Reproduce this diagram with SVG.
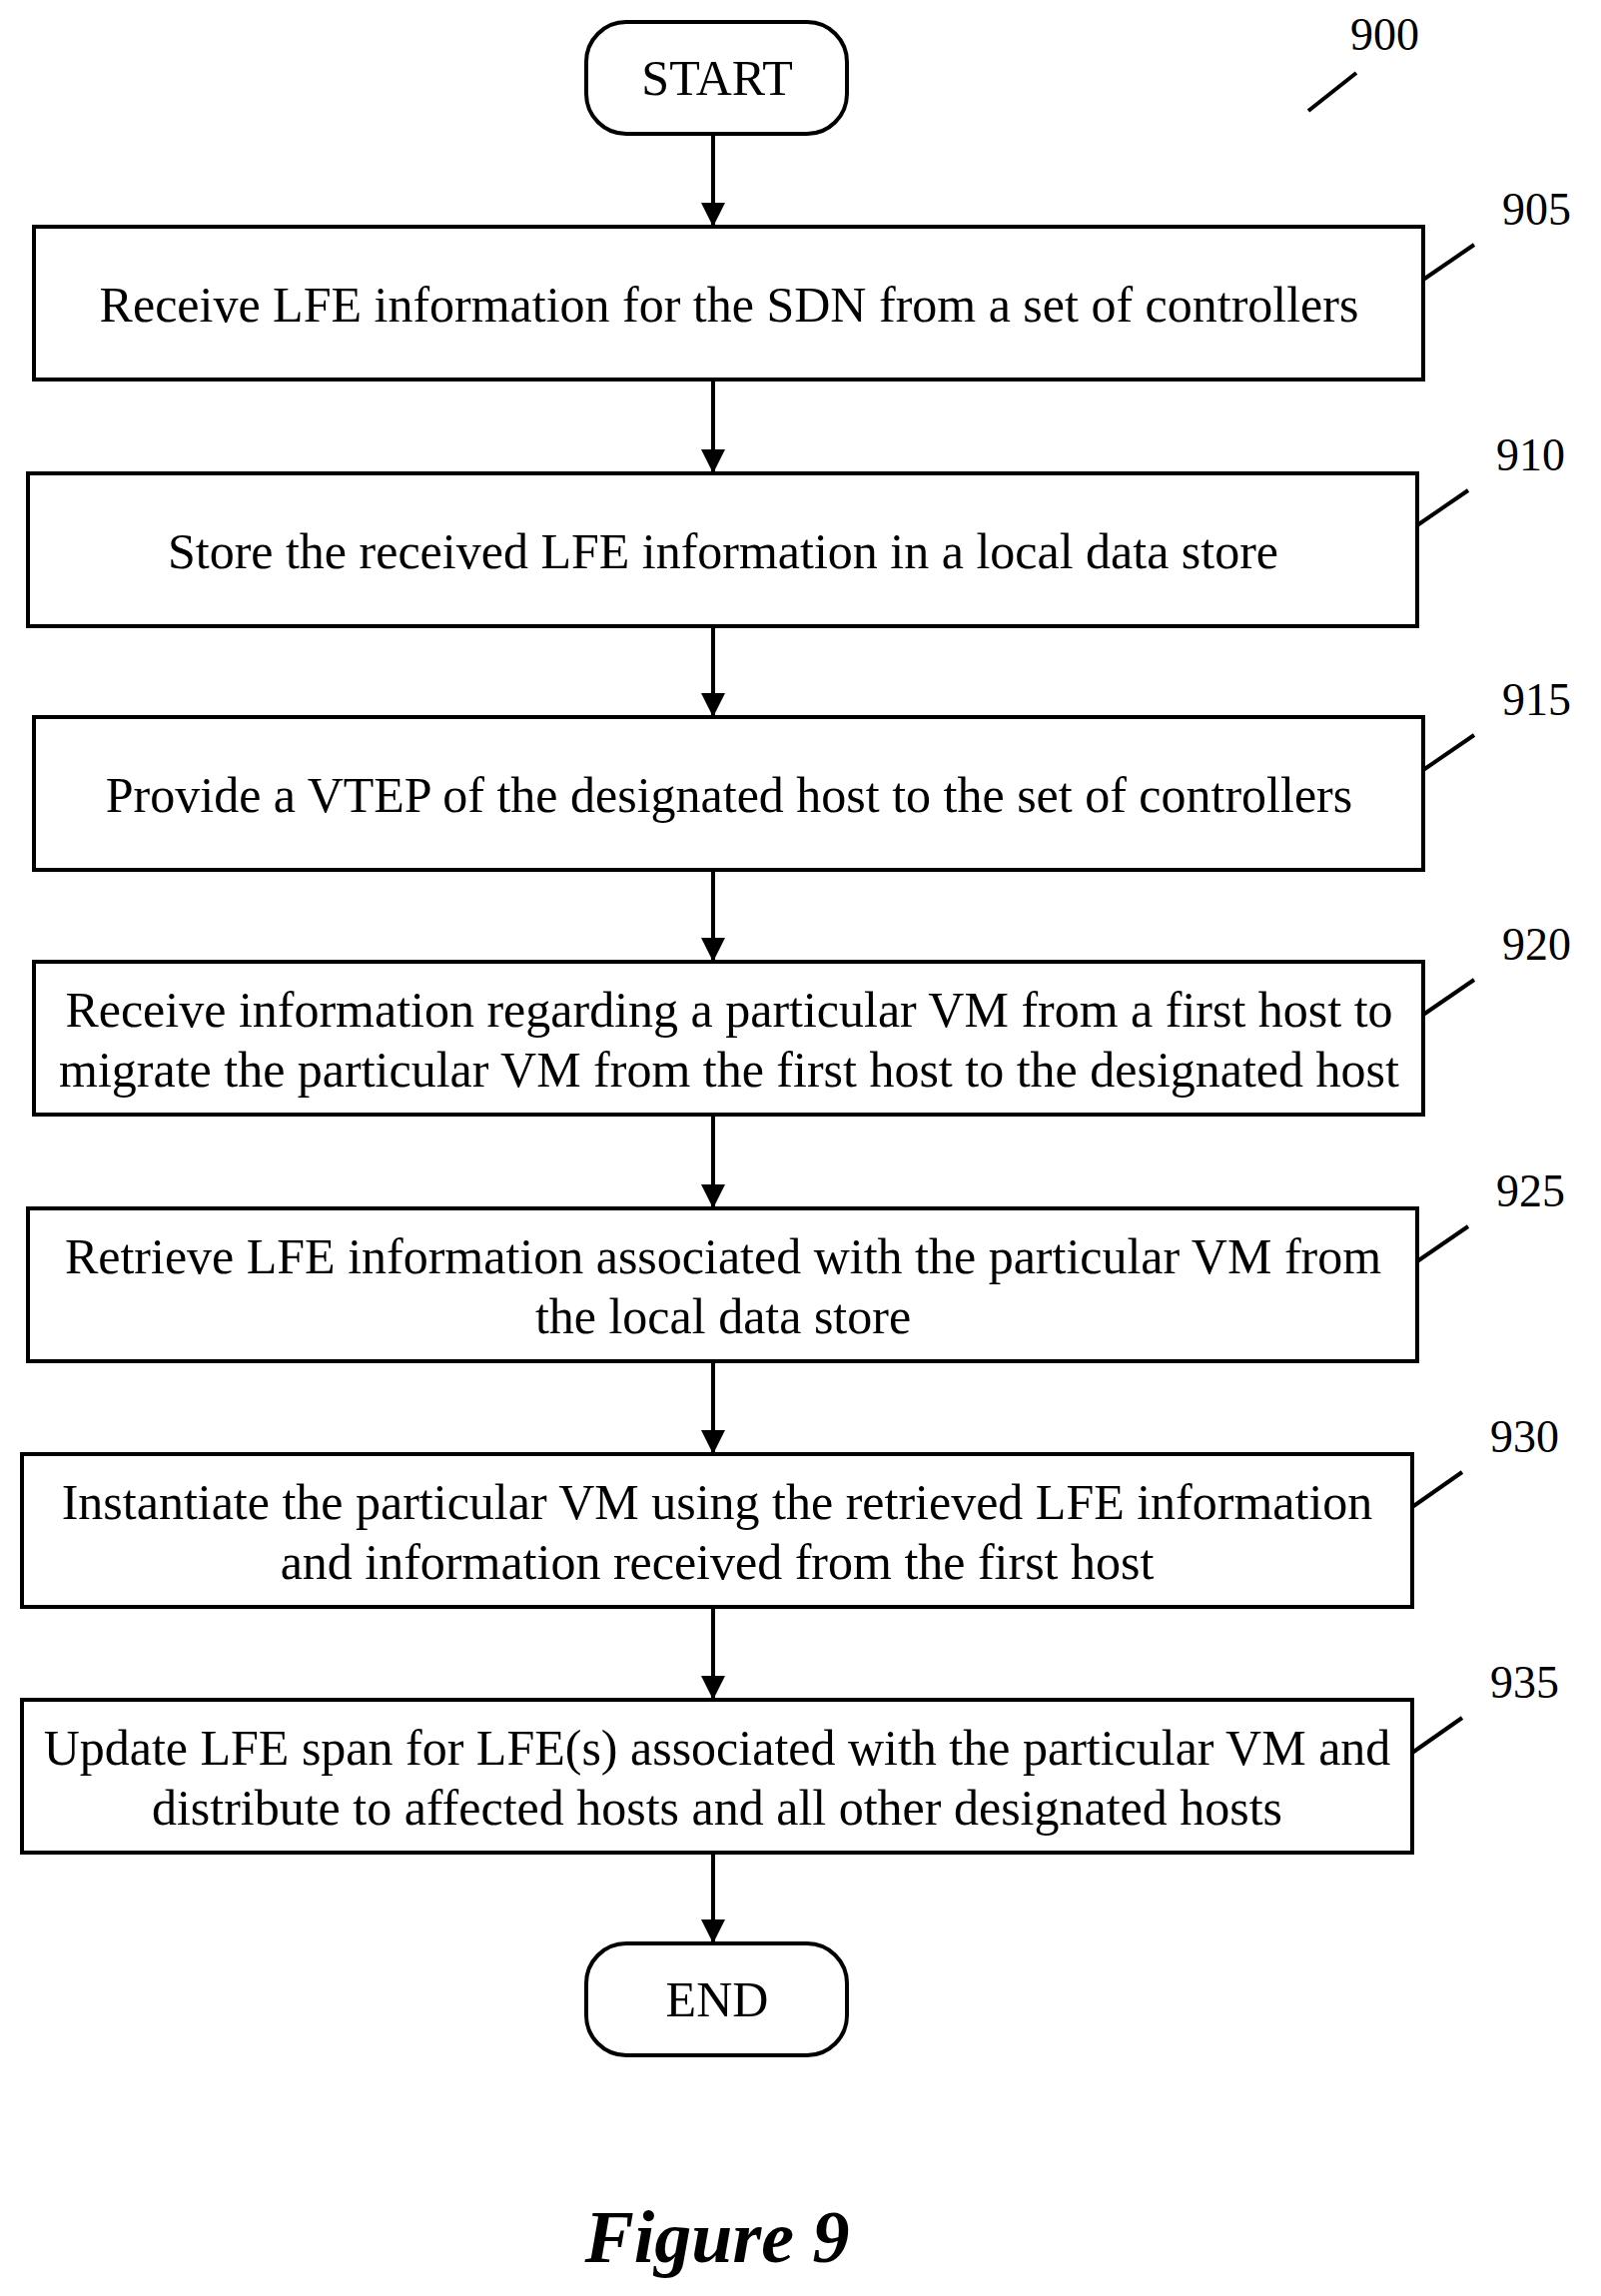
<svg xmlns="http://www.w3.org/2000/svg" width="1603" height="2299" viewBox="0 0 1603 2299">
<defs>
<style>
.b{fill:#fff;stroke:#000;stroke-width:4}
.t{font-family:"Liberation Serif",serif;font-size:50px;text-anchor:middle;fill:#000}
.n{font-family:"Liberation Serif",serif;font-size:46px;fill:#000}
.c{stroke:#000;stroke-width:4;fill:none}
</style>
<marker id="a" viewBox="0 0 10 10" refX="10" refY="5" markerWidth="6" markerHeight="6" orient="auto" markerUnits="strokeWidth"><path d="M0,0L10,5L0,10z" fill="#000"/></marker>
</defs>
<rect width="1603" height="2299" fill="#fff"/>
<g id="start"><rect class="b" x="587" y="22" width="261" height="112" rx="40"/><text class="t" x="718" y="95">START</text></g>
<g id="n905"><rect class="b" x="34" y="227" width="1391" height="153"/><text class="t" x="730" y="322">Receive LFE information for the SDN from a set of controllers</text></g>
<g id="n910"><rect class="b" x="28" y="474" width="1391" height="153"/><text class="t" x="724" y="569">Store the received LFE information in a local data store</text></g>
<g id="n915"><rect class="b" x="34" y="718" width="1391" height="153"/><text class="t" x="730" y="813">Provide a VTEP of the designated host to the set of controllers</text></g>
<g id="n920"><rect class="b" x="34" y="963" width="1391" height="153"/><text class="t" x="730" y="1028">Receive information regarding a particular VM from a first host to</text><text class="t" x="730" y="1088">migrate the particular VM from the first host to the designated host</text></g>
<g id="n925"><rect class="b" x="28" y="1210" width="1391" height="153"/><text class="t" x="724" y="1275">Retrieve LFE information associated with the particular VM from</text><text class="t" x="724" y="1335">the local data store</text></g>
<g id="n930"><rect class="b" x="22" y="1456" width="1392" height="153"/><text class="t" x="718" y="1521">Instantiate the particular VM using the retrieved LFE information</text><text class="t" x="718" y="1581">and information received from the first host</text></g>
<g id="n935"><rect class="b" x="22" y="1702" width="1392" height="153"/><text class="t" x="718" y="1767">Update LFE span for LFE(s) associated with the particular VM and</text><text class="t" x="718" y="1827">distribute to affected hosts and all other designated hosts</text></g>
<g id="end"><rect class="b" x="587" y="1946" width="261" height="112" rx="40"/><text class="t" x="718" y="2019">END</text></g>
<g id="connectors">
<line class="c" x1="714" y1="134" x2="714" y2="227" marker-end="url(#a)"/>
<line class="c" x1="714" y1="380" x2="714" y2="474" marker-end="url(#a)"/>
<line class="c" x1="714" y1="627" x2="714" y2="718" marker-end="url(#a)"/>
<line class="c" x1="714" y1="871" x2="714" y2="963" marker-end="url(#a)"/>
<line class="c" x1="714" y1="1116" x2="714" y2="1210" marker-end="url(#a)"/>
<line class="c" x1="714" y1="1363" x2="714" y2="1456" marker-end="url(#a)"/>
<line class="c" x1="714" y1="1609" x2="714" y2="1702" marker-end="url(#a)"/>
<line class="c" x1="714" y1="1855" x2="714" y2="1946" marker-end="url(#a)"/>
</g>
<g id="labels">
<text class="n" x="1352" y="50">900</text><line class="c" x1="1310" y1="111" x2="1358" y2="73"/>
<text class="n" x="1504" y="225">905</text><line class="c" x1="1425" y1="280" x2="1476" y2="245"/>
<text class="n" x="1498" y="471">910</text><line class="c" x1="1419" y1="526" x2="1470" y2="491"/>
<text class="n" x="1504" y="716">915</text><line class="c" x1="1425" y1="771" x2="1476" y2="736"/>
<text class="n" x="1504" y="961">920</text><line class="c" x1="1425" y1="1016" x2="1476" y2="981"/>
<text class="n" x="1498" y="1208">925</text><line class="c" x1="1419" y1="1263" x2="1470" y2="1228"/>
<text class="n" x="1492" y="1454">930</text><line class="c" x1="1414" y1="1509" x2="1464" y2="1474"/>
<text class="n" x="1492" y="1700">935</text><line class="c" x1="1414" y1="1755" x2="1464" y2="1720"/>
</g>
<text x="718" y="2265" style="font-family:'Liberation Serif',serif;font-size:74px;font-weight:bold;font-style:italic;text-anchor:middle">Figure 9</text>
</svg>
